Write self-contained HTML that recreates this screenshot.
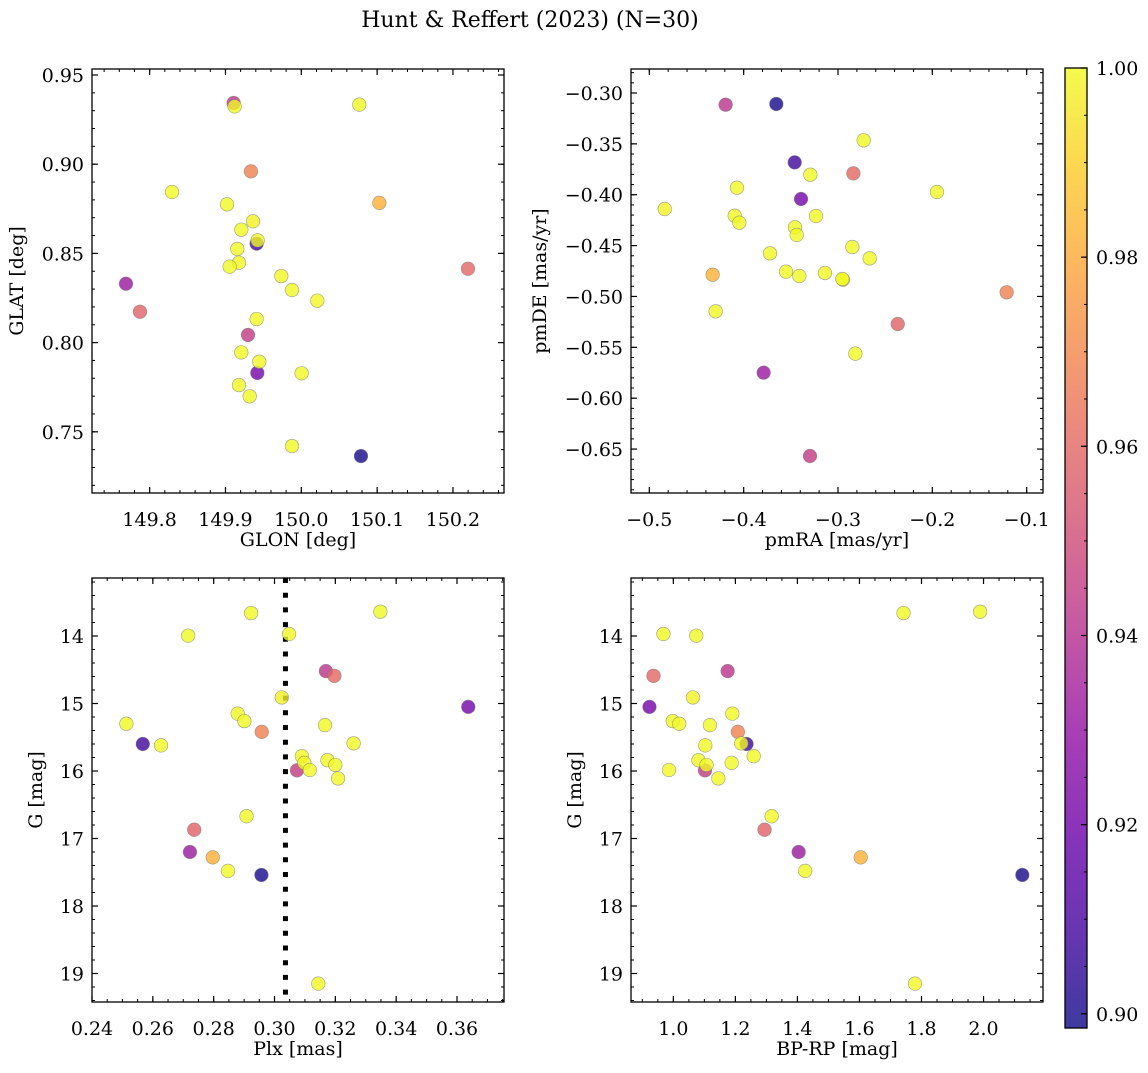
<!DOCTYPE html>
<html><head><meta charset="utf-8"><style>
body{margin:0;background:#fff}
svg text{font-family:"DejaVu Serif","Liberation Serif",serif;fill:#000}
</style></head><body>
<svg id="fig" width="1148" height="1068" xmlns="http://www.w3.org/2000/svg">
<rect width="1148" height="1068" fill="#fff"/>
<text x="530" y="27" font-size="22" text-anchor="middle">Hunt &amp; Reffert (2023) (N=30)</text>
</svg>
<script>
const glon=[150.0787,149.9411,149.9420,149.7688,149.9108,149.9297,149.9336,150.2198,149.7873,150.1029,
149.9121,150.0765,149.8295,149.9020,149.9363,149.9209,149.9424,149.9156,149.9178,149.9055,149.9736,149.9877,150.0211,149.9411,149.9209,149.9446,150.0004,149.9178,149.9319,149.9877];
const glat=[0.7364,0.8555,0.7830,0.8330,0.9343,0.8043,0.8960,0.8414,0.8173,0.8783,
0.9324,0.9334,0.8844,0.8775,0.8680,0.8633,0.8573,0.8525,0.8448,0.8426,0.8373,0.8295,0.8235,0.8132,0.7945,0.7893,0.7828,0.7762,0.7699,0.7420];
const pmra=[-0.3654,-0.3459,-0.3392,-0.3788,-0.4191,-0.3297,-0.1212,-0.2837,-0.2367,-0.4329,
-0.2728,-0.3293,-0.4071,-0.1951,-0.4837,-0.4095,-0.4046,-0.3233,-0.3456,-0.3438,-0.2848,-0.3721,-0.2664,-0.3551,-0.3410,-0.3138,-0.2947,-0.2954,-0.4297,-0.2816];
const pmde=[-0.3108,-0.3682,-0.4042,-0.5749,-0.3115,-0.6568,-0.4959,-0.3790,-0.5271,-0.4786,
-0.3465,-0.3803,-0.3931,-0.3973,-0.4140,-0.4206,-0.4275,-0.4209,-0.4320,-0.4396,-0.4514,-0.4576,-0.4625,-0.4756,-0.4799,-0.4769,-0.4835,-0.4828,-0.5146,-0.5562];
const plx=[0.2957,0.2567,0.3637,0.2722,0.3169,0.3074,0.2958,0.3197,0.2736,0.2797,
0.2923,0.3348,0.3048,0.2716,0.3024,0.2879,0.2901,0.2513,0.3166,0.2627,0.3260,0.3090,0.3098,0.3116,0.3174,0.3200,0.3209,0.2908,0.2847,0.3144];
const gmag=[17.54,15.60,15.05,17.20,14.52,15.99,15.42,14.59,16.87,17.28,
13.66,13.64,13.97,13.995,14.91,15.15,15.26,15.30,15.32,15.62,15.59,15.78,15.88,15.985,15.84,15.91,16.11,16.67,17.48,19.15];
const bprp=[2.125,1.236,0.923,1.404,1.175,1.102,1.208,0.936,1.294,1.604,
1.742,1.989,0.968,1.074,1.063,1.190,0.998,1.019,1.118,1.103,1.219,1.259,1.188,0.986,1.081,1.107,1.145,1.317,1.425,1.779];
const prob=[0.900,0.908,0.921,0.932,0.942,0.944,0.968,0.960,0.958,0.982,
1,1,1,1,0.998,1,1,1,1,1,1,1,1,1,1,1,1,1,1,1];
const plxMean=[0.3036];
const cbTicks=[0.90,0.92,0.94,0.96,0.98,1.00];

const NS="http://www.w3.org/2000/svg";
const svg=document.getElementById('fig');
function mk(tag,attrs,parent){const e=document.createElementNS(NS,tag);for(const k in attrs)e.setAttribute(k,attrs[k]);(parent||svg).appendChild(e);return e;}
const plasma=[[13,8,135],[65,4,157],[106,0,168],[143,13,164],[177,42,144],[204,71,120],[225,100,98],[242,132,75],[252,166,54],[252,206,37],[240,249,33]];
function cmap(t){t=Math.max(0,Math.min(1,t));const f=t*10,i=Math.min(9,Math.floor(f)),r=f-i;const a=plasma[i],b=plasma[i+1];return `rgb(${Math.round(a[0]+(b[0]-a[0])*r)},${Math.round(a[1]+(b[1]-a[1])*r)},${Math.round(a[2]+(b[2]-a[2])*r)})`;}
const vmin=0.8985,vmax=1.0;
function fmt(v,d){const s=Math.abs(v).toFixed(d);return (v<-1e-9?'\u2212':'')+s;}
const TFS=19, LFS=19;

function panel(o){
  const g=mk('g',{});
  
  
  const X=v=>o.x0+(v-o.xmin)/(o.xmax-o.xmin)*(o.x1-o.x0);
  const Y=o.inv?(v=>o.y0+(v-o.ymin)/(o.ymax-o.ymin)*(o.y1-o.y0)):(v=>o.y1-(v-o.ymin)/(o.ymax-o.ymin)*(o.y1-o.y0));
  const eps=1e-9;
  for(let v=Math.ceil(o.xmin/o.xminor-eps)*o.xminor;v<=o.xmax+eps;v+=o.xminor){const x=X(v);mk('line',{x1:x,x2:x,y1:o.y1,y2:o.y1-3,stroke:'#000','stroke-width':1},g);mk('line',{x1:x,x2:x,y1:o.y0,y2:o.y0+3,stroke:'#000','stroke-width':1},g);}
  for(let v=Math.ceil(o.ymin/o.yminor-eps)*o.yminor;v<=o.ymax+eps;v+=o.yminor){const y=Y(v);mk('line',{x1:o.x0,x2:o.x0+3,y1:y,y2:y,stroke:'#000','stroke-width':1},g);mk('line',{x1:o.x1,x2:o.x1-3,y1:y,y2:y,stroke:'#000','stroke-width':1},g);}
  o.xt.forEach(v=>{const x=X(v);mk('line',{x1:x,x2:x,y1:o.y1,y2:o.y1-6,stroke:'#000','stroke-width':1.2},g);mk('line',{x1:x,x2:x,y1:o.y0,y2:o.y0+6,stroke:'#000','stroke-width':1.2},g);
    const t=mk('text',{x:x,y:o.y1+33,'font-size':TFS,'text-anchor':'middle'},g);t.textContent=fmt(v,o.xd);
    
    });
  o.yt.forEach(v=>{const y=Y(v);mk('line',{x1:o.x0,x2:o.x0+6,y1:y,y2:y,stroke:'#000','stroke-width':1.2},g);mk('line',{x1:o.x1,x2:o.x1-6,y1:y,y2:y,stroke:'#000','stroke-width':1.2},g);
    const t=mk('text',{x:o.x0-8,y:y+7,'font-size':TFS,'text-anchor':'end'},g);t.textContent=fmt(v,o.yd);
    
    });
  const xl=mk('text',{x:(o.x0+o.x1)/2,y:o.y1+53,'font-size':LFS,'text-anchor':'middle'},g);xl.textContent=o.xlab;
  
  
  const yl=mk('text',{x:o.ylx,y:(o.y0+o.y1)/2,'font-size':LFS,'text-anchor':'middle',transform:`rotate(-90 ${o.ylx} ${(o.y0+o.y1)/2})`},g);yl.textContent=o.ylab;
  
  
  if(o.vline){o.vline.forEach(v=>{const l=mk('line',{x1:X(v),x2:X(v),y1:o.y0,y2:o.y1,stroke:'#000','stroke-width':5,'stroke-dasharray':'5 9.7'},g);
    
    });}
  const idx=[...prob.keys()].sort((a,b)=>prob[a]-prob[b]);
  idx.forEach(i=>{const c=mk('circle',{cx:X(o.xs[i]),cy:Y(o.ys[i]),r:6.8,fill:cmap((prob[i]-vmin)/(vmax-vmin)),'fill-opacity':0.8,stroke:'#777','stroke-opacity':0.7,'stroke-width':0.6},g);
    
    });
  const fr=mk('rect',{x:o.x0,y:o.y0,width:o.x1-o.x0,height:o.y1-o.y0,fill:'none',stroke:'#000','stroke-width':1.3},g);
  
  
}
panel({name:'glon-glat-panel',x0:92,x1:504,y0:69,y1:493,xmin:149.7240,xmax:150.2673,ymin:0.71570,ymax:0.95336,xs:glon,ys:glat,
  xt:[149.8,149.9,150.0,150.1,150.2],yt:[0.75,0.80,0.85,0.90,0.95],xd:1,yd:2,xminor:0.02,yminor:0.01,xlab:'GLON [deg]',ylab:'GLAT [deg]',ylx:23});
panel({name:'pm-panel',x0:631,x1:1043,y0:69,y1:493,xmin:-0.51943,xmax:-0.08269,ymin:-0.69319,ymax:-0.27641,xs:pmra,ys:pmde,
  xt:[-0.5,-0.4,-0.3,-0.2,-0.1],yt:[-0.65,-0.60,-0.55,-0.50,-0.45,-0.40,-0.35,-0.30],xd:1,yd:2,xminor:0.02,yminor:0.01,xlab:'pmRA [mas/yr]',ylab:'pmDE [mas/yr]',ylx:546});
panel({name:'plx-g-panel',x0:92,x1:504,y0:578,y1:1002,xmin:0.24,xmax:0.37545,ymin:13.1407,ymax:19.4222,inv:true,xs:plx,ys:gmag,
  xt:[0.24,0.26,0.28,0.30,0.32,0.34,0.36],yt:[14,15,16,17,18,19],xd:2,yd:0,xminor:0.005,yminor:0.2,xlab:'Plx [mas]',ylab:'G [mag]',ylx:42,vline:plxMean});
panel({name:'cmd-panel',x0:631,x1:1043,y0:578,y1:1002,xmin:0.8635,xmax:2.1917,ymin:13.1407,ymax:19.4222,inv:true,xs:bprp,ys:gmag,
  xt:[1.0,1.2,1.4,1.6,1.8,2.0],yt:[14,15,16,17,18,19],xd:1,yd:0,xminor:0.05,yminor:0.2,xlab:'BP-RP [mag]',ylab:'G [mag]',ylx:581});

const cb=mk('g',{});


const cx0=1065,cx1=1087,cy0=68,cy1=1028;
const defs=mk('defs',{},cb);
const lg=mk('linearGradient',{id:'pl',x1:0,y1:1,x2:0,y2:0},defs);
for(let k=0;k<=20;k++){mk('stop',{offset:k/20,'stop-color':cmap(k/20),'stop-opacity':0.8},lg);}
mk('rect',{x:cx0,y:cy0,width:cx1-cx0,height:cy1-cy0,fill:'url(#pl)'},cb);
const CY=v=>cy1-(v-vmin)/(vmax-vmin)*(cy1-cy0);
for(let v=0.9;v<=1.0001;v+=0.005){const y=CY(v);mk('line',{x1:cx1,x2:cx1-3,y1:y,y2:y,stroke:'#000','stroke-width':1},cb);}
cbTicks.forEach(v=>{const y=CY(v);mk('line',{x1:cx1,x2:cx1-6,y1:y,y2:y,stroke:'#000','stroke-width':1.2},cb);
  const t=mk('text',{x:1096,y:y+7,'font-size':TFS},cb);t.textContent=v.toFixed(2);
  
  });
mk('rect',{x:cx0,y:cy0,width:cx1-cx0,height:cy1-cy0,fill:'none',stroke:'#000','stroke-width':1.3},cb);
</script>
</body></html>
